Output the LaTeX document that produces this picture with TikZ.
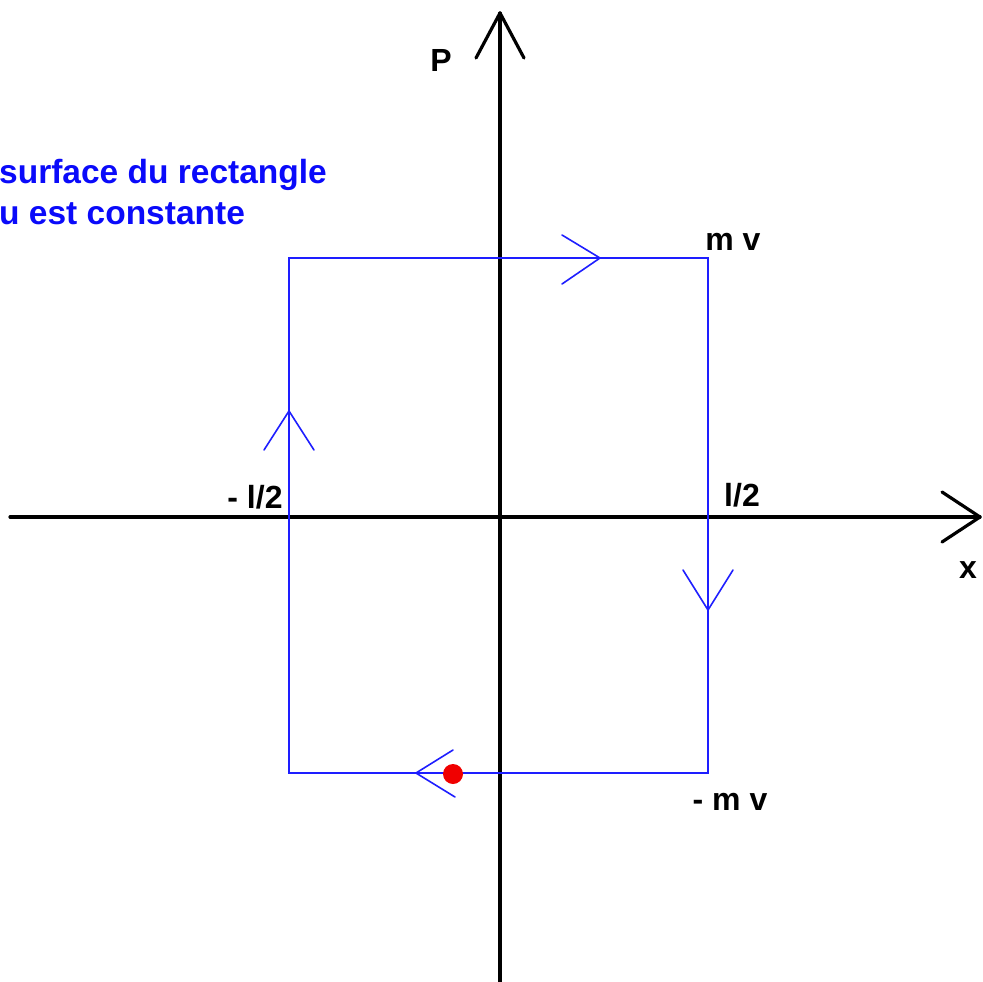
\documentclass[tikz,border=0pt]{standalone}
\usepackage{fontspec}
\setmainfont{Liberation Sans}
\usetikzlibrary{calc}
\definecolor{rectblue}{RGB}{30,30,255}
\definecolor{txtblue}{RGB}{10,10,250}
\definecolor{dotred}{RGB}{240,0,0}
\begin{document}
\begin{tikzpicture}[x=1pt,y=-1pt,
  axis/.style={line width=3.2pt,black,line cap=round,line join=round},
  loop/.style={line width=1.6pt,rectblue,line join=miter},
  chev/.style={line width=1.6pt,rectblue,line cap=round,line join=miter},
  lab/.style={font=\fontsize{32}{36}\selectfont\bfseries,text=black,inner sep=0pt},
  note/.style={font=\fontsize{33.5}{40}\selectfont\bfseries,text=txtblue,inner sep=0pt,anchor=base west}]
\useasboundingbox (0,0) rectangle (983,982);
% axes
\coordinate (xs) at (10,517);
\coordinate (xe) at (980,517);
\coordinate (ys) at (500,982);
\coordinate (ye) at (500,13);
\draw[axis] (xs) -- (xe);
\draw[axis] ($(xe)+(-38,-25)$) -- (xe) -- ($(xe)+(-38,25)$);
\draw[axis] (ys) -- (ye);
\draw[axis] ($(ye)+(-24,45)$) -- (ye) -- ($(ye)+(24,45)$);
% rectangle corners
\coordinate (tl) at (289,258);
\coordinate (tr) at (708,258);
\coordinate (br) at (708,773);
\coordinate (bl) at (289,773);
\draw[loop] (tl) -- (tr) -- (br) -- (bl) -- cycle;
% direction chevrons
\coordinate (ct) at (600,258);
\coordinate (cr) at (708,610);
\coordinate (cb) at (416,773);
\coordinate (cl) at (289,411);
\draw[chev] ($(ct)+(-38,-23)$) -- (ct) -- ($(ct)+(-38,26)$);
\draw[chev] ($(cr)+(-25,-40)$) -- (cr) -- ($(cr)+(25,-40)$);
\draw[chev] ($(cb)+(37,-23)$) -- (cb) -- ($(cb)+(39,24)$);
\draw[chev] ($(cl)+(-25,39)$) -- (cl) -- ($(cl)+(25,39)$);
% red dot
\fill[dotred] (453,774) circle (10);
% labels
\node[lab] (lp) at (441,60) {P};
\node[lab] (lmv) at (733,242) {m v};
\node[lab] (lml) at (255,497) {- l/2};
\node[lab] (lpl) at (742,495) {l/2};
\node[lab] (lx) at (968,570) {x};
\node[lab] (lmmv) at (730,802) {- m v};
\node[note] (n1) at (-1,183) {surface du rectangle};
\node[note] (n2) at (-1,224) {u est constante};
\end{tikzpicture}
\end{document}
